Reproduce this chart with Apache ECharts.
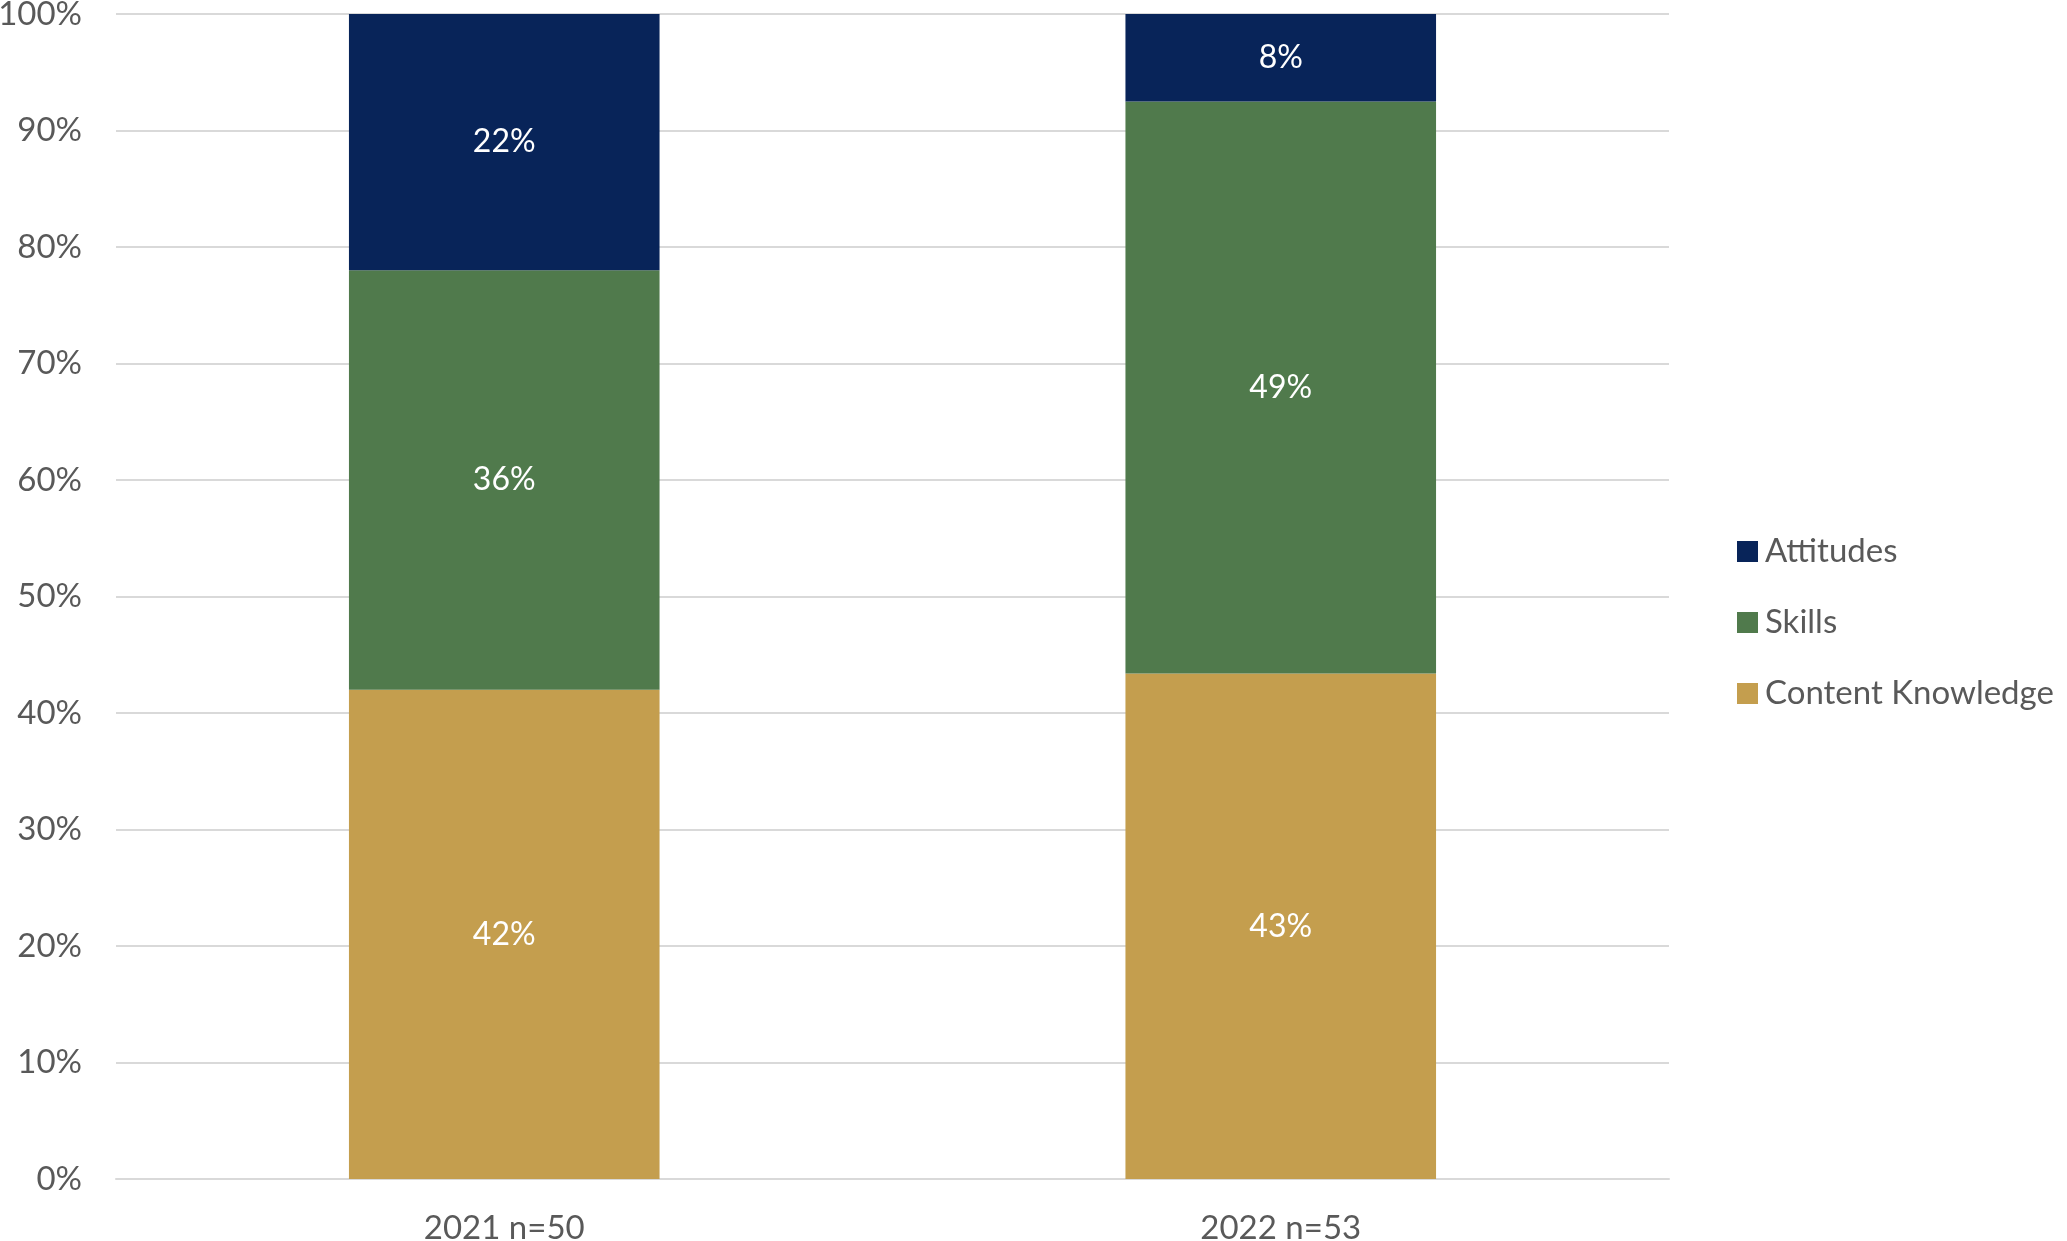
<!DOCTYPE html>
<html><head><meta charset="utf-8">
<script src="https://cdn.jsdelivr.net/npm/echarts@6/dist/echarts.min.js"></script>
<style>html,body{margin:0;padding:0;background:#fff}#c{width:2067px;height:1241px}</style>
</head><body><div id="c"></div>
<script>
const categories = ['2021 n=50', '2022 n=53'];
const contentKnowledge = [42, 43.4];
const skills = [36, 49.1];
const attitudes = [22, 7.5];
const yTicks = [0, 10, 20, 30, 40, 50, 60, 70, 80, 90, 100];

const font = 'Lato, "Open Sans", sans-serif';
const chart = echarts.init(document.getElementById('c'));
const lbl = {show: true, position: 'inside', color: '#fff', fontSize: 32, fontFamily: font,
  formatter: p => Math.round(p.value) + '%'};
chart.setOption({
  animation: false,
  grid: {left: 116, right: 398, top: 14, bottom: 62, containLabel: false, outerBoundsMode: 'none'},
  legend: {
    orient: 'vertical', left: 1732, top: 530,
    data: ['Attitudes', 'Skills', 'Content Knowledge'],
    itemWidth: 21, itemHeight: 21, itemGap: 38,
    icon: 'rect',
    textStyle: {color: '#595959', fontSize: 33, fontFamily: font, padding: [0, 0, 0, 2]}
  },
  xAxis: {
    type: 'category', data: categories,
    axisLine: {lineStyle: {color: '#D9D9D9', width: 2}},
    axisTick: {show: false},
    axisLabel: {color: '#595959', fontSize: 33, fontFamily: font, margin: 33}
  },
  yAxis: {
    type: 'value', min: 0, max: 100, interval: 10,
    axisLine: {show: false}, axisTick: {show: false},
    splitLine: {lineStyle: {color: '#D9D9D9', width: 2}},
    axisLabel: {color: '#595959', fontSize: 33, fontFamily: font, margin: 34,
      formatter: v => yTicks.includes(v) ? v + '%' : ''}
  },
  series: [
    {name: 'Content Knowledge', type: 'bar', stack: 's', data: contentKnowledge, barWidth: '40%',
     itemStyle: {color: '#C49E4E'}, label: lbl},
    {name: 'Skills', type: 'bar', stack: 's', data: skills,
     itemStyle: {color: '#507A4C'}, label: lbl},
    {name: 'Attitudes', type: 'bar', stack: 's', data: attitudes,
     itemStyle: {color: '#082459'}, label: lbl}
  ]
});
</script></body></html>
